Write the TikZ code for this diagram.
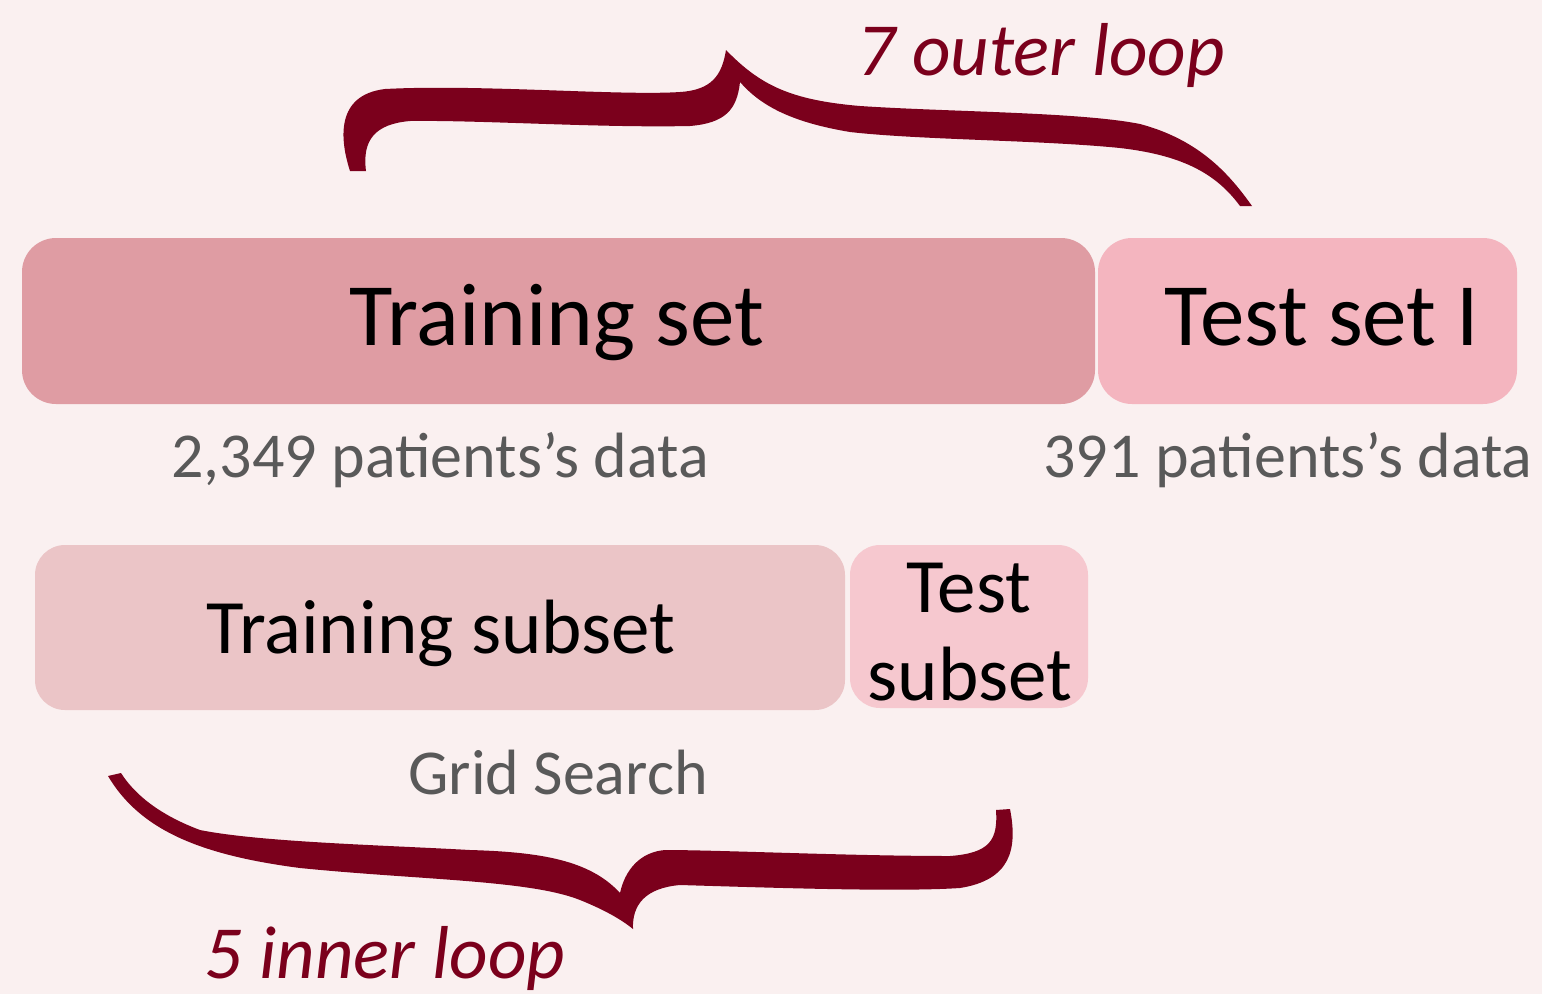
\documentclass[tikz,border=0pt]{standalone}
\usepackage{fontspec}
\setmainfont{Carlito}
\definecolor{bg}{HTML}{FAF0F0}
\definecolor{trainc}{HTML}{DF9CA3}
\definecolor{testc}{HTML}{F4B5BF}
\definecolor{subtrainc}{HTML}{EBC5C7}
\definecolor{subtestc}{HTML}{F6C8CF}
\definecolor{graytxt}{HTML}{595959}
\definecolor{darkred}{HTML}{7B001C}
\tikzset{
  bigbox/.style={rectangle, rounded corners=34pt, inner sep=0pt, draw=none},
  bigtxt/.style={anchor=base, inner sep=0pt, font=\fontsize{89}{100}\selectfont, text=black},
  subtxt/.style={anchor=base, inner sep=0pt, font=\fontsize{77}{88}\selectfont, text=black},
  graylbl/.style={anchor=base, inner sep=0pt, font=\fontsize{64}{72}\selectfont, text=graytxt},
  looplbl/.style={anchor=base, inner sep=0pt, font=\fontsize{75}{85}\selectfont\itshape, text=darkred},
  bracefill/.style={fill=darkred, draw=none}
}
\begin{document}
\begin{tikzpicture}[x=1pt,y=-1pt]
\fill[bg] (0,0) rectangle (1542,994);
\useasboundingbox (0,0) rectangle (1542,994);

% boxes
\node[bigbox, fill=trainc, minimum width=1073pt, minimum height=166pt] (trainbox) at (558.5,321) {};
\node[bigbox, fill=testc, minimum width=419pt, minimum height=166pt] (testbox) at (1307.5,321) {};
\node[bigbox, fill=subtrainc, rounded corners=30pt, minimum width=810pt, minimum height=165pt] (subtrainbox) at (440,627.5) {};
\node[bigbox, fill=subtestc, rounded corners=30pt, minimum width=238pt, minimum height=163pt] (subtestbox) at (969,626.5) {};

% texts in boxes
\node[bigtxt] (trainlbl) at (557,345) {Training set};
\node[bigtxt] (testlbl) at (1322,345) {Test set I};
\node[subtxt] (subtrainlbl) at (441,653) {Training subset};
\node[subtxt] (subtestlbl1) at (969,612) {Test};
\node[subtxt] (subtestlbl2) at (970,700) {subset};

% gray labels
\node[graylbl] (trainn) at (440,477) {2,349 patients’s data};
\node[graylbl] (testn) at (1288,477) {391 patients’s data};
\node[graylbl] (grid) at (558,794) {Grid Search};

% loop labels
\node[looplbl] (outer) at (1041,75) {7 outer loop};
\node[looplbl] (inner) at (385,978) {5 inner loop};

% top brace (outer loop)
\fill[bracefill] (350,171) .. controls (340,140) and (335,95) .. (385,89)
  .. controls (480,84) and (620,96) .. (680,92)
  .. controls (712,90) and (722,75) .. (726,50)
  .. controls (760,85) and (790,100) .. (860,106)
  .. controls (950,112) and (1080,112) .. (1140,124)
  .. controls (1200,140) and (1230,175) .. (1252,206)
  -- (1240,206)
  .. controls (1215,172) and (1180,155) .. (1120,148)
  .. controls (1040,140) and (920,140) .. (850,132)
  .. controls (790,122) and (760,105) .. (740,82)
  .. controls (737,110) and (725,123) .. (690,126)
  .. controls (600,128) and (480,120) .. (410,121)
  .. controls (375,124) and (362,140) .. (366,171) -- cycle;

% bottom brace (inner loop)
\fill[bracefill] (108,776) .. controls (140,830) and (200,855) .. (300,868)
  .. controls (420,880) and (530,880) .. (580,900)
  .. controls (605,910) and (622,920) .. (633,929)
  .. controls (632,905) and (645,888) .. (680,885)
  .. controls (780,888) and (900,892) .. (960,888)
  .. controls (1010,880) and (1018,850) .. (1010,809)
  -- (996,810)
  .. controls (998,840) and (990,853) .. (950,856)
  .. controls (850,856) and (720,850) .. (665,850)
  .. controls (640,852) and (625,870) .. (620,893)
  .. controls (590,860) and (540,852) .. (470,850)
  .. controls (380,845) and (260,842) .. (200,830)
  .. controls (160,815) and (135,795) .. (121,773) -- cycle;
\end{tikzpicture}
\end{document}
